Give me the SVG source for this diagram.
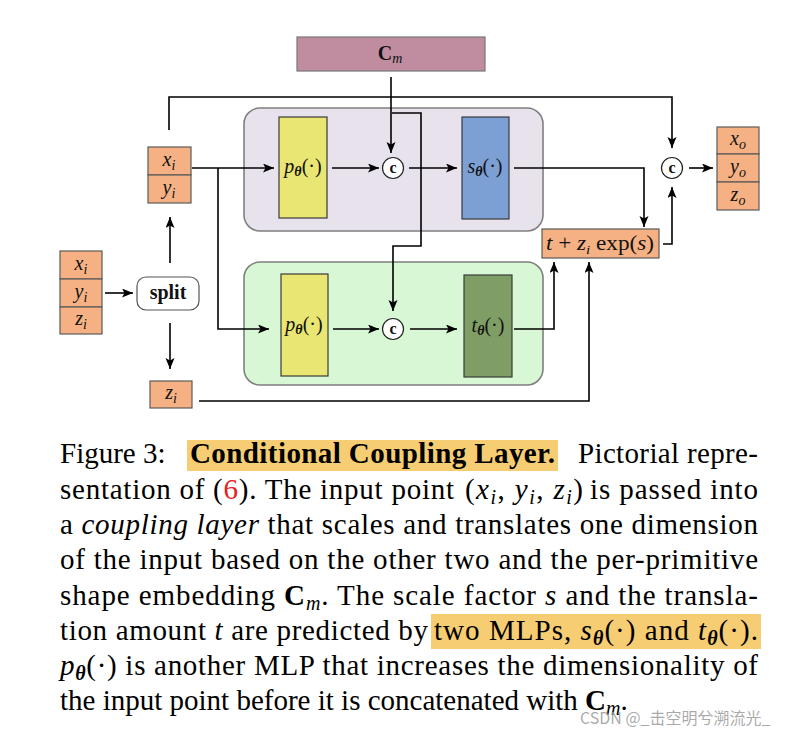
<svg xmlns="http://www.w3.org/2000/svg" width="790" height="734" viewBox="0 0 790 734">
<style>
.ser{font-family:"Liberation Serif","Times New Roman",serif;}
.mi{font-family:"Liberation Serif","Times New Roman",serif;font-style:italic;}
.lbl{font-family:"Liberation Serif","Times New Roman",serif;font-size:20px;fill:#111;text-anchor:middle;}
.io{fill:#f5b183;stroke:#5a5a5a;stroke-width:1.2;}
.mlp{stroke:#3a3a3a;stroke-width:1.2;}
.grp{stroke:#7f7f7f;stroke-width:1.6;}
.cc{fill:#fff;stroke:#222;stroke-width:1.2;}
.cl{font-family:"Liberation Serif","Times New Roman",serif;font-size:16px;font-weight:bold;text-anchor:middle;fill:#111;}
.wire{fill:none;stroke:#000;stroke-width:1.6;}
.arr{fill:none;stroke:#000;stroke-width:1.6;marker-end:url(#ah);}
.cap{font-family:"Liberation Serif","Times New Roman",serif;font-size:29px;fill:#000;}
.hl{fill:#f6cd72;}
</style>
<defs>
<marker id="ah" markerUnits="userSpaceOnUse" markerWidth="12" markerHeight="10" refX="11" refY="4.5" orient="auto">
<path d="M0,0 L11,4.5 L0,9 L2.5,4.5 Z" fill="#000"/>
</marker>
</defs>
<rect width="790" height="734" fill="#fff"/>

<g id="group-s">
<rect x="244" y="108" width="299" height="123" rx="16" fill="#e8e2ec" class="grp"/>
</g>
<g id="group-t">
<rect x="244" y="262" width="299" height="123" rx="16" fill="#d8f7d4" class="grp"/>
</g>

<g id="cm">
<rect x="297" y="37" width="188" height="34" fill="#c08da0" stroke="#777" stroke-width="1.2"/>
<text x="390" y="60" class="lbl" font-size="19"><tspan font-weight="bold">C</tspan><tspan class="mi" font-size="14" dy="3">m</tspan></text>
</g>

<g id="input">
<rect x="60" y="251" width="42" height="28" class="io"/>
<rect x="60" y="279" width="42" height="28" class="io"/>
<rect x="60" y="307" width="42" height="27" class="io"/>
<text x="81" y="270" class="lbl"><tspan class="mi">x</tspan><tspan class="mi" font-size="14" dy="4">i</tspan></text>
<text x="81" y="298" class="lbl"><tspan class="mi">y</tspan><tspan class="mi" font-size="14" dy="4">i</tspan></text>
<text x="81" y="325" class="lbl"><tspan class="mi">z</tspan><tspan class="mi" font-size="14" dy="4">i</tspan></text>
</g>

<g id="split">
<rect x="137" y="277" width="62" height="33" rx="9" fill="#fff" stroke="#555" stroke-width="1.2"/>
<text x="168" y="299" class="lbl" font-size="17" font-weight="bold">split</text>
</g>

<g id="xy">
<rect x="148" y="147" width="43" height="28" class="io"/>
<rect x="148" y="175" width="43" height="28" class="io"/>
<text x="169" y="166" class="lbl"><tspan class="mi">x</tspan><tspan class="mi" font-size="14" dy="4">i</tspan></text>
<text x="169" y="194" class="lbl"><tspan class="mi">y</tspan><tspan class="mi" font-size="14" dy="4">i</tspan></text>
</g>

<g id="zi">
<rect x="150" y="381" width="42" height="27" class="io"/>
<text x="171" y="399" class="lbl"><tspan class="mi">z</tspan><tspan class="mi" font-size="14" dy="4">i</tspan></text>
</g>

<g id="p-top">
<rect x="279" y="117" width="48" height="101" fill="#e9e673" class="mlp"/>
<text x="303" y="173" class="lbl"><tspan class="mi">p</tspan><tspan class="mi" font-weight="bold" font-size="14" dy="3">θ</tspan><tspan dy="-3">(·)</tspan></text>
</g>
<g id="c-top">
<circle cx="393" cy="168" r="10.5" class="cc"/>
<text x="393" y="173" class="cl">c</text>
</g>
<g id="s">
<rect x="462" y="117" width="47" height="102" fill="#7c9fd4" class="mlp"/>
<text x="485" y="173" class="lbl"><tspan class="mi">s</tspan><tspan class="mi" font-weight="bold" font-size="14" dy="3">θ</tspan><tspan dy="-3">(·)</tspan></text>
</g>

<g id="p-bot">
<rect x="281" y="274" width="47" height="102" fill="#e9e673" class="mlp"/>
<text x="304" y="331" class="lbl"><tspan class="mi">p</tspan><tspan class="mi" font-weight="bold" font-size="14" dy="3">θ</tspan><tspan dy="-3">(·)</tspan></text>
</g>
<g id="c-bot">
<circle cx="393" cy="329" r="10.5" class="cc"/>
<text x="393" y="334" class="cl">c</text>
</g>
<g id="t">
<rect x="464" y="275" width="48" height="102" fill="#7f9e66" class="mlp"/>
<text x="488" y="332" class="lbl"><tspan class="mi">t</tspan><tspan class="mi" font-weight="bold" font-size="14" dy="3">θ</tspan><tspan dy="-3">(·)</tspan></text>
</g>

<g id="affine">
<rect x="542" y="229" width="117" height="29" class="io"/>
<text x="600" y="250" class="lbl" font-size="20" textLength="108" lengthAdjust="spacingAndGlyphs"><tspan class="mi">t</tspan> + <tspan class="mi">z</tspan><tspan class="mi" font-size="13" dy="4">i</tspan><tspan dy="-4"> exp(</tspan><tspan class="mi">s</tspan>)</text>
</g>

<g id="c-out">
<circle cx="672" cy="168" r="10.5" class="cc"/>
<text x="672" y="173" class="cl">c</text>
</g>

<g id="output">
<rect x="717" y="127" width="42" height="27" class="io"/>
<rect x="717" y="154" width="42" height="28" class="io"/>
<rect x="717" y="182" width="42" height="28" class="io"/>
<text x="738" y="145" class="lbl"><tspan class="mi">x</tspan><tspan class="mi" font-size="14" dy="4">o</tspan></text>
<text x="738" y="173" class="lbl"><tspan class="mi">y</tspan><tspan class="mi" font-size="14" dy="4">o</tspan></text>
<text x="738" y="201" class="lbl"><tspan class="mi">z</tspan><tspan class="mi" font-size="14" dy="4">o</tspan></text>
</g>

<g id="connectors">
<path d="M105,293 L133,293" class="arr"/>
<path d="M170,263 L170,217" class="arr"/>
<path d="M170,323 L170,369" class="arr"/>
<path d="M169,130 L169,97 L672,97 L672,148" class="arr"/>
<path d="M192,168 L274,168" class="arr"/>
<path d="M218,168 L218,329 L269,329" class="arr"/>
<path d="M332,168 L379,168" class="arr"/>
<path d="M391,77 L391,153" class="arr"/>
<path d="M392,113 L421,113 L421,246 L393,246 L393,311" class="arr"/>
<path d="M409,168 L457,168" class="arr"/>
<path d="M514,168 L644,168 L644,227" class="arr"/>
<path d="M663,244 L672,244 L672,187" class="arr"/>
<path d="M689,168 L713,168" class="arr"/>
<path d="M333,329 L379,329" class="arr"/>
<path d="M410,329 L457,329" class="arr"/>
<path d="M514,329 L554,329 L554,262" class="arr"/>
<path d="M199,401 L589,401 L589,262" class="arr"/>
</g>

<g id="caption">
<rect x="187" y="440" width="371" height="31" class="hl"/>
<rect x="431" y="614" width="330" height="35" class="hl"/>
<text x="60" y="463" class="cap">Figure 3:</text>
<text x="190" y="463" class="cap" font-weight="bold" textLength="365" lengthAdjust="spacing">Conditional Coupling Layer.</text>
<text x="578" y="463" class="cap" textLength="180" lengthAdjust="spacing">Pictorial repre-</text>

<text x="60" y="498.5" class="cap" textLength="394" lengthAdjust="spacing">sentation of (<tspan fill="#e8201a">6</tspan>).  The input point</text>
<text x="465" y="498.5" class="cap" textLength="118" lengthAdjust="spacing">(<tspan class="mi">x</tspan><tspan class="mi" font-size="20" dy="5">i</tspan><tspan dy="-5">, </tspan><tspan class="mi">y</tspan><tspan class="mi" font-size="20" dy="5">i</tspan><tspan dy="-5">, </tspan><tspan class="mi">z</tspan><tspan class="mi" font-size="20" dy="5">i</tspan><tspan dy="-5">)</tspan></text>
<text x="590" y="498.5" class="cap" textLength="168" lengthAdjust="spacing">is passed into</text>

<text x="60" y="534" class="cap" textLength="698" lengthAdjust="spacing">a <tspan class="mi">coupling layer</tspan> that scales and translates one dimension</text>
<text x="60" y="569" class="cap" textLength="698" lengthAdjust="spacing">of the input based on the other two and the per-primitive</text>
<text x="60" y="604.5" class="cap" textLength="698" lengthAdjust="spacing">shape embedding <tspan font-weight="bold">C</tspan><tspan class="mi" font-size="20" dy="5">m</tspan><tspan dy="-5">.  The scale factor </tspan><tspan class="mi">s</tspan> and the transla-</text>
<text x="60" y="640" class="cap" textLength="368" lengthAdjust="spacing">tion amount <tspan class="mi">t</tspan> are predicted by</text>
<text x="434" y="640" class="cap" textLength="324" lengthAdjust="spacing">two MLPs, <tspan class="mi">s</tspan><tspan class="mi" font-weight="bold" font-size="20" dy="5">θ</tspan><tspan dy="-5">(·) and </tspan><tspan class="mi">t</tspan><tspan class="mi" font-weight="bold" font-size="20" dy="5">θ</tspan><tspan dy="-5">(·).</tspan></text>
<text x="60" y="675" class="cap" textLength="698" lengthAdjust="spacing"><tspan class="mi">p</tspan><tspan class="mi" font-weight="bold" font-size="20" dy="5">θ</tspan><tspan dy="-5">(·) is another MLP that increases the dimensionality of</tspan></text>
<text x="60" y="710" class="cap">the input point before it is concatenated with <tspan font-weight="bold">C</tspan><tspan class="mi" font-size="20" dy="5">m</tspan><tspan dy="-5">.</tspan></text>
<text x="580" y="724" font-family="'Noto Sans CJK SC','Noto Sans',sans-serif" font-size="16" fill="#9a9a9a" fill-opacity="0.85">CSDN @_击空明兮溯流光_</text>
</g>
</svg>
